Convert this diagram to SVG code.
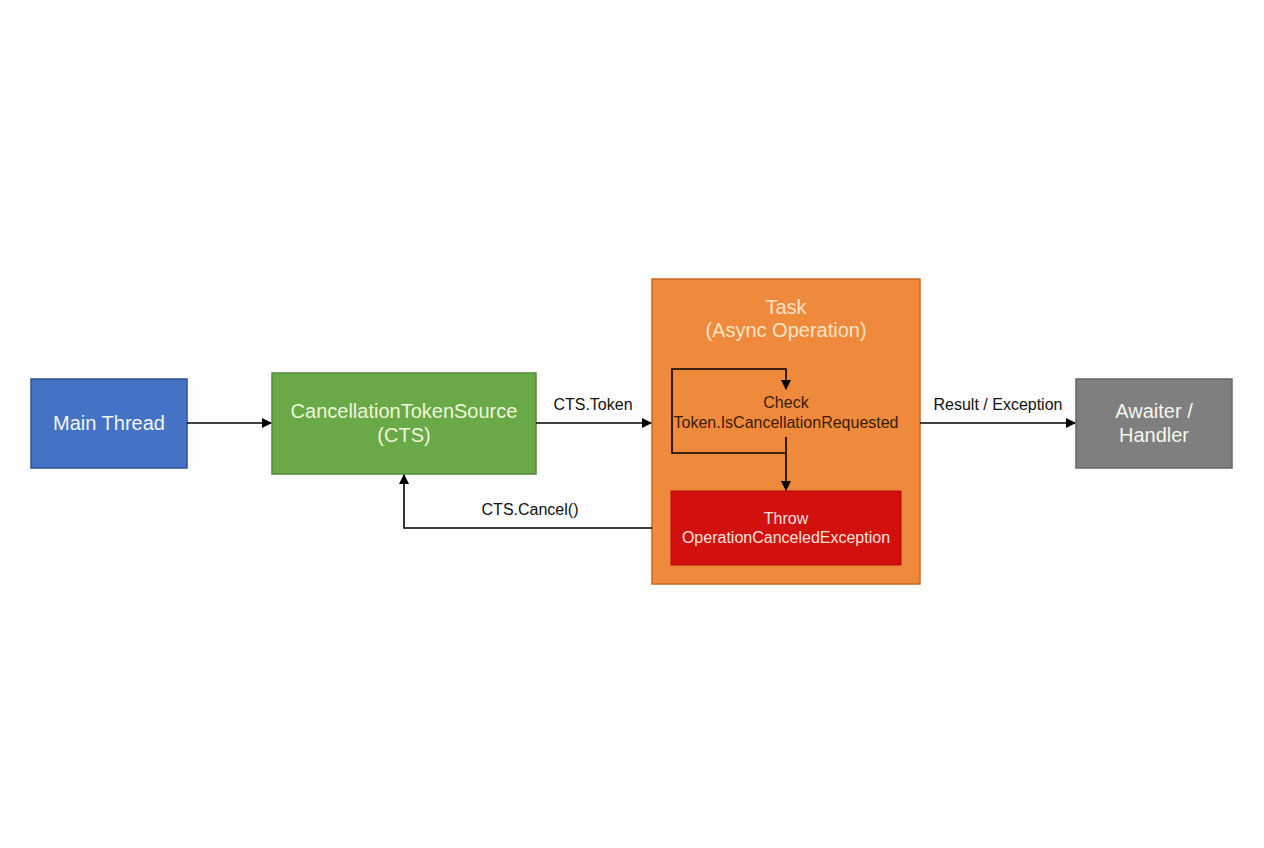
<svg xmlns="http://www.w3.org/2000/svg" width="1264" height="848" viewBox="0 0 1264 848">
<defs>
<marker id="arr" markerWidth="10" markerHeight="10" refX="9" refY="5" orient="auto" markerUnits="userSpaceOnUse">
<path d="M0,0 L10,5 L0,10 z" fill="#000"/>
</marker>
<style>
text{font-family:"Liberation Sans",Arial,sans-serif;text-anchor:middle}
.node{font-size:20px;fill:#f4f7ef}
.lbl{font-size:16px;fill:#111}
.conn{fill:none;stroke:#000;stroke-width:1.6}
</style>
</defs>
<rect width="1264" height="848" fill="#fdfdfd"/>
<g id="main-thread">
<rect x="31" y="379" width="156" height="89" fill="#4472c4" stroke="#2f5597" stroke-width="1.5"/>
<text class="node" x="109" y="430">Main Thread</text>
</g>
<g id="cts">
<rect x="272" y="373" width="264" height="101" fill="#6aa947" stroke="#538a36" stroke-width="1.5"/>
<text class="node" x="404" y="418" style="fill:#eef6dc">CancellationTokenSource</text>
<text class="node" x="404" y="442" style="fill:#eef6dc">(CTS)</text>
</g>
<g id="task">
<rect x="652" y="279" width="268" height="305" fill="#ef8a3c" stroke="#c96a22" stroke-width="1.5"/>
<text x="786" y="314" style="font-size:20px;fill:#fbe3c8">Task</text>
<text x="786" y="337" style="font-size:20px;fill:#fbe3c8">(Async Operation)</text>
<text x="786" y="408" style="font-size:16px;fill:#3a1c08">Check</text>
<text x="786" y="428" style="font-size:16px;fill:#3a1c08">Token.IsCancellationRequested</text>
</g>
<g id="throw">
<rect x="671" y="491" width="230" height="74" fill="#d2110e" stroke="#b00c0a" stroke-width="1"/>
<text x="786" y="524" style="font-size:16px;fill:#f8e2dc">Throw</text>
<text x="786" y="543" style="font-size:16px;fill:#f8e2dc">OperationCanceledException</text>
</g>
<g id="awaiter">
<rect x="1076" y="379" width="156" height="89" fill="#7f7f7f" stroke="#666" stroke-width="1.5"/>
<text class="node" x="1154" y="418">Awaiter /</text>
<text class="node" x="1154" y="442">Handler</text>
</g>
<g id="connectors">
<path class="conn" d="M187,423 H271" marker-end="url(#arr)"/>
<path class="conn" d="M536,423 H651" marker-end="url(#arr)"/>
<path class="conn" d="M920,423 H1075" marker-end="url(#arr)"/>
<path class="conn" d="M652,528 H404 V475" marker-end="url(#arr)"/>
<path class="conn" d="M786,437 V490" marker-end="url(#arr)"/>
<path class="conn" d="M786,453 H672 V369 H786 V389" marker-end="url(#arr)"/>
<text class="lbl" x="593" y="410">CTS.Token</text>
<text class="lbl" x="998" y="410">Result / Exception</text>
<text class="lbl" x="530" y="515">CTS.Cancel()</text>
</g>
</svg>
